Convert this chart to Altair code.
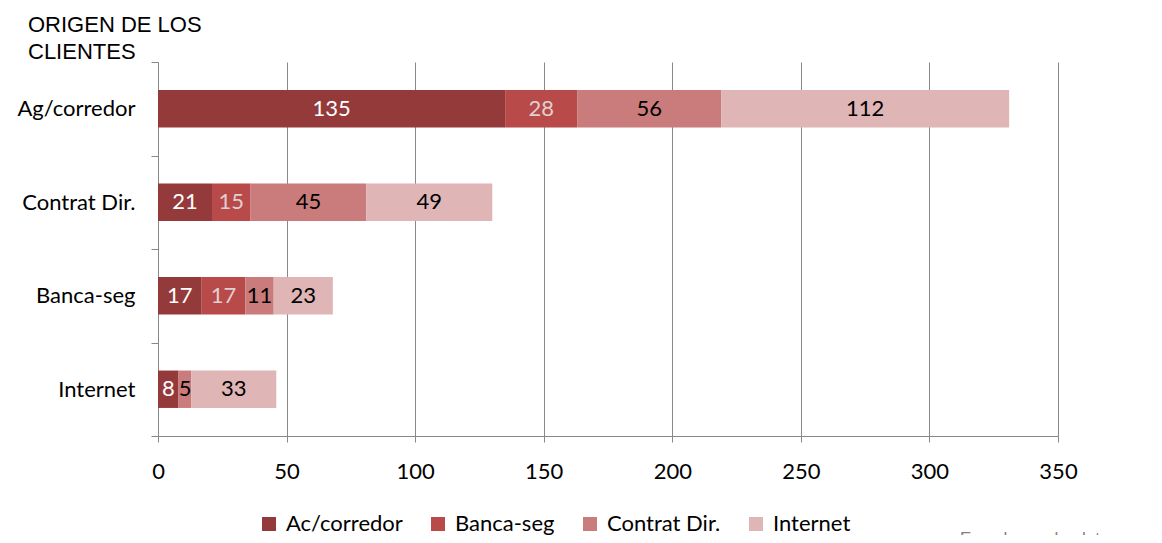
import altair as alt
import pandas as pd

categories = ["Ag/corredor", "Contrat Dir.", "Banca-seg", "Internet"]
series = ["Ac/corredor", "Banca-seg", "Contrat Dir.", "Internet"]
values = {
    "Ac/corredor": [135, 21, 17, 8],
    "Banca-seg": [28, 15, 17, 0],
    "Contrat Dir.": [56, 45, 11, 5],
    "Internet": [112, 49, 23, 33],
}
colors = ["#953A3A", "#B84A4A", "#CA7B7B", "#DFB5B5"]
label_colors = ["#FFFFFF", "#E0D0D0", "#000000", "#000000"]

rows = []
for si, s in enumerate(series):
    for ci, c in enumerate(categories):
        rows.append({"cat": c, "serie": s, "v": values[s][ci], "order": si,
                     "lc": label_colors[si]})
df = pd.DataFrame(rows)

FONT = "Lato"
FS = 22

base = alt.Chart(df).transform_stack(
    stack="v", groupby=["cat"], as_=["v0", "v1"],
    sort=[alt.SortField("order", order="ascending")]
).transform_calculate(mid="(datum.v0 + datum.v1) / 2")

y = alt.Y("cat:N", sort=categories, title=None,
          scale=alt.Scale(paddingInner=0, paddingOuter=0),
          axis=alt.Axis(tickBand="extent", domainColor="#888888", tickColor="#888888",
                        tickSize=7, labelFont=FONT, labelFontSize=FS, labelColor="#000000",
                        labelPadding=16, grid=False))

bars = base.mark_bar(height={"band": 0.4}).encode(
    x=alt.X("v0:Q", scale=alt.Scale(domain=[0, 350], nice=False), title=None,
            axis=alt.Axis(values=list(range(0, 351, 50)), grid=True, gridColor="#888888",
                          domainColor="#888888", tickColor="#888888", tickSize=6,
                          labelFont=FONT, labelFontSize=FS, labelColor="#000000",
                          labelPadding=19, labelFlush=False)),
    x2="v1:Q",
    y=y,
    color=alt.Color("serie:N", sort=series,
                    scale=alt.Scale(domain=series, range=colors),
                    legend=alt.Legend(title=None, orient="none", direction="horizontal",
                                      legendX=100, legendY=451, symbolType="square",
                                      symbolSize=196, symbolStrokeWidth=0,
                                      labelFont=FONT, labelFontSize=FS, labelColor="#000000",
                                      columnPadding=24, symbolOffset=0, labelOffset=6)),
)

labels = base.transform_filter("datum.v > 0").mark_text(font=FONT, fontSize=FS).encode(
    x=alt.X("mid:Q"),
    y=alt.Y("cat:N", sort=categories),
    text=alt.Text("v:Q"),
    color=alt.Color("lc:N", scale=None),
)

note = alt.Chart(pd.DataFrame({"t": ["En valores absolutos"]})).mark_text(
    font="Liberation Sans", fontSize=17, color="#808080", align="left", baseline="alphabetic"
).encode(x=alt.value(802), y=alt.value(482), text="t:N")

chart = alt.layer(bars, labels, note).properties(
    width=900, height=374,
    autosize=alt.AutoSizeParams(type="none"),
    padding={"left": 150, "top": 54, "right": 96, "bottom": 99},
    title=alt.Title(["ORIGEN DE LOS", "CLIENTES"], anchor="start", frame="group",
                    font="Liberation Sans", fontSize=22, fontWeight="normal",
                    color="#000000", dx=-130, dy=17, offset=4, lineHeight=27),
).configure_view(stroke=None)

chart.save("out.html", embed_options={"renderer": "svg", "actions": False})
